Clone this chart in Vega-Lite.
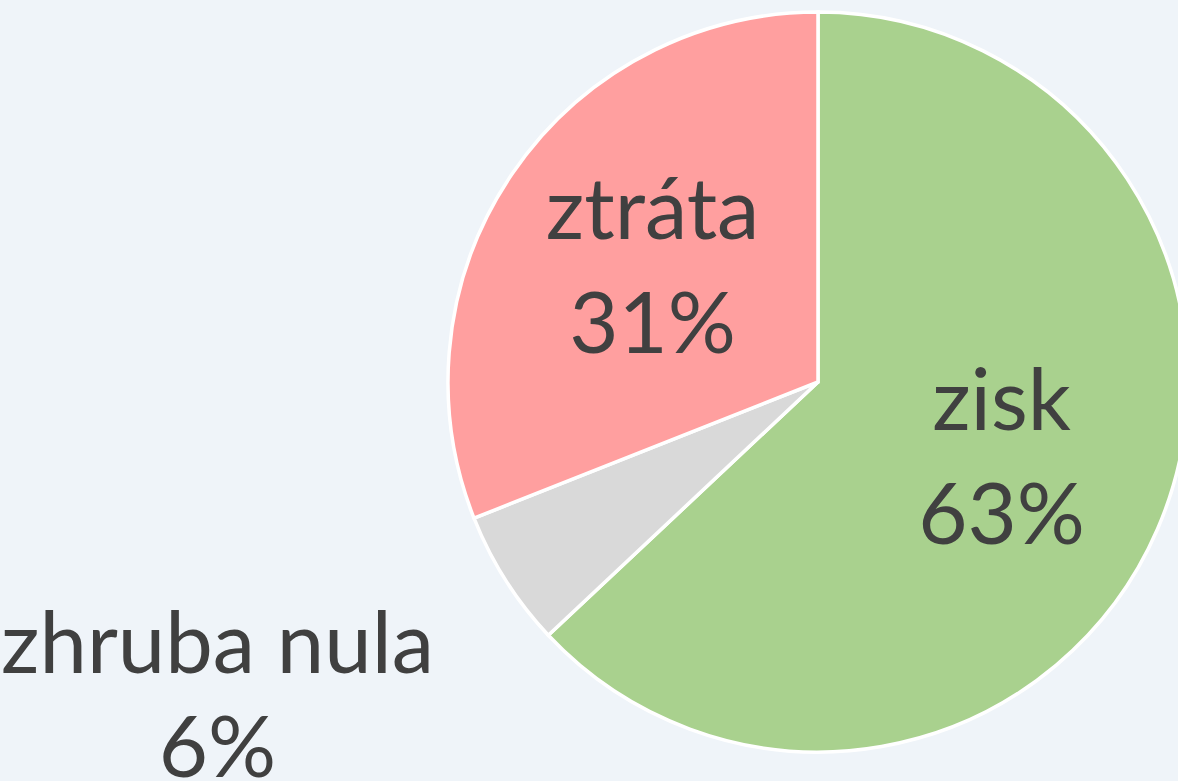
{
  "$schema": "https://vega.github.io/schema/vega-lite/v6.json",
  "width": 720,
  "height": 740,
  "autosize": {"type": "none"},
  "padding": {"left": 458, "top": 12, "right": 0, "bottom": 29},
  "background": "#EFF4F9",
  "view": {"stroke": null},
  "data": {
    "values": [
      {"category": "zisk", "share": 63, "rank": 1, "label": "zisk\n63%"},
      {"category": "zhruba nula", "share": 6, "rank": 2, "label": "zhruba nula\n6%"},
      {"category": "ztráta", "share": 31, "rank": 3, "label": "ztráta\n31%"}
    ]
  },
  "encoding": {
    "theta": {"field": "share", "type": "quantitative", "stack": true},
    "order": {"field": "rank", "type": "quantitative"}
  },
  "layer": [
    {
      "mark": {"type": "arc", "outerRadius": 370, "stroke": "white", "strokeWidth": 3.5},
      "encoding": {
        "color": {
          "field": "category",
          "type": "nominal",
          "scale": {"domain": ["zisk", "zhruba nula", "ztráta"], "range": ["#A9D18E", "#D9D9D9", "#FF9F9F"]},
          "legend": null
        }
      }
    },
    {
      "mark": {"type": "text", "radius": 200, "dy": -57, "font": "Lato", "fontSize": 85, "lineHeight": 114, "lineBreak": "\n", "fill": "#404040"},
      "encoding": {
        "text": {"condition": {"test": "datum.category === 'zhruba nula'", "value": ""}, "field": "label"}
      }
    },
    {
      "mark": {"type": "text", "radius": 588, "dx": -104, "dy": -50, "font": "Lato", "fontSize": 85, "lineHeight": 104, "lineBreak": "\n", "fill": "#404040"},
      "encoding": {
        "text": {"condition": {"test": "datum.category !== 'zhruba nula'", "value": ""}, "field": "label"}
      }
    }
  ]
}
